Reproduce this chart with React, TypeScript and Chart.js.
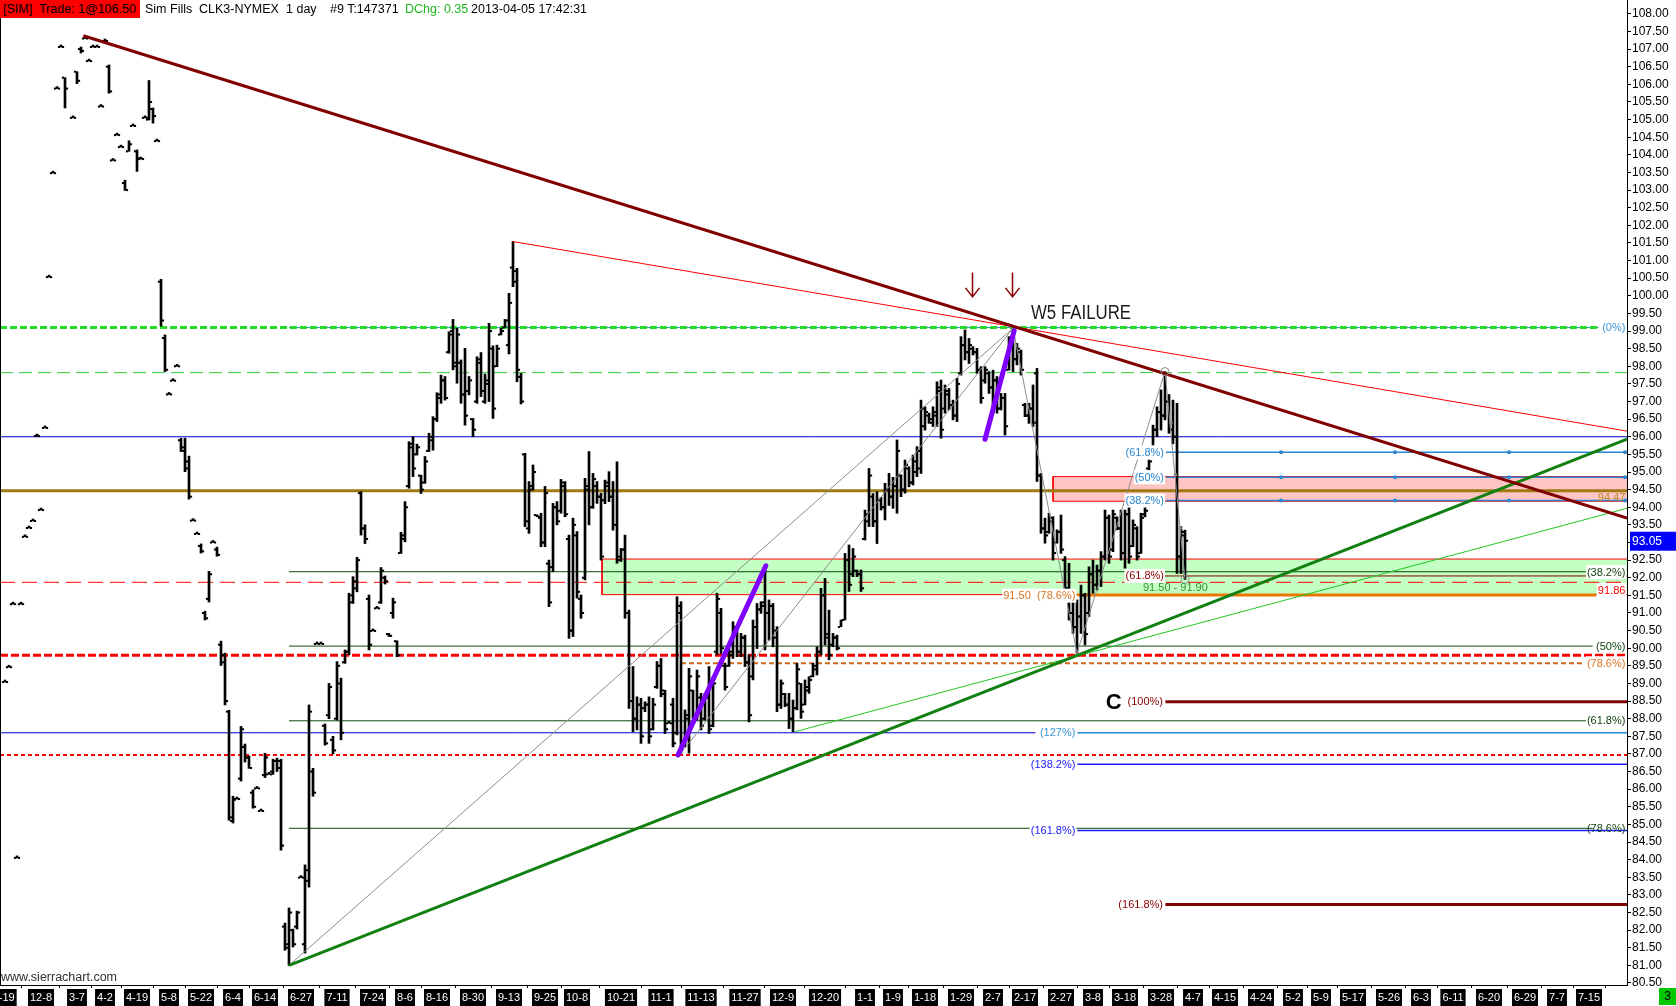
import React, { useEffect, useRef } from 'react';
import { Chart, registerables } from 'chart.js';

Chart.register(...registerables);

// ---------- OHLC data, one slot per bar (slot index = position on the time axis) ----------
const highs: (number | null)[] = [
  null, 89.04, 89.46, 91.25, 84.05, 91.25, 93.16, 93.41, 93.61, 96.02,
  93.92, 96.25, 100.53, 103.48, 105.88, 107.06, 106.19, null, 105.05, 106.36,
  107.06, 107.3, 106.66, 107.06, 107.06, 105.37, 107.23, 106.55, 103.84, 104.56,
  104.22, 103.28, 104.4, 104.82, 104.14, 103.88, 105.05, 106.11, 105.33, 104.39,
  100.47, 98.89, 97.2, 97.59, 98.0, 95.96, 95.96, 95.45, 93.62, 93.24,
  92.96, 91.05, 92.18, 93.0, 92.87, 90.2, 89.86, 88.24, 85.8, 85.72,
  87.78, 87.28, 86.94, 85.98, 86.02, 85.38, 87.02, 86.42, 86.85, 86.88,
  86.85, 82.2, 82.63, 82.03, 82.54, 83.49, 83.85, 88.39, 86.59, 90.12,
  90.12, 87.85, 89.0, 87.5, 89.62, 89.15, 89.95, 91.56, 92.03, 92.58,
  94.44, 93.5, 91.51, 90.49, 91.13, 92.29, 92.05, 90.42, 91.42, 90.21,
  93.29, 94.16, 95.86, 96.0, 95.79, 94.91, 95.44, 96.1, 96.57, 97.25,
  97.75, 97.71, 98.98, 99.33, 99.08, 98.18, 98.51, 97.71, 96.52, 98.27,
  98.39, 97.78, 99.22, 98.58, 98.6, 99.08, 99.33, 100.07, 101.54, 100.78,
  97.8, 95.53, 94.73, 95.2, 93.78, 93.83, 94.59, 92.5, 94.11, 94.16,
  94.79, 94.73, 93.21, 93.69, 93.31, 91.51, 94.82, 95.58, 94.96, 94.73,
  94.4, 94.77, 95.01, 94.73, 95.29, 92.83, 93.21, 91.08, 89.48, 88.62,
  88.58, 88.48, 88.62, 88.58, 89.62, 89.71, 88.81, 87.87, 88.58, 91.46,
  91.32, 88.25, 89.43, 88.81, 89.38, 88.72, 88.72, 89.48, 89.19, 91.56,
  91.13, 89.57, 89.99, 90.75, 90.52, 90.42, 90.37, 89.81, 90.8, 91.27,
  91.32, 92.27, 91.37, 91.27, 90.61, 89.1, 88.72, 88.72, 88.53, 89.57,
  89.0, 89.1, 89.19, 89.57, 90.04, 91.7, 91.98, 91.08, 90.42, 90.37,
  90.8, 92.69, 92.93, 92.83, 92.22, 92.22, 93.92, 95.1, 94.39, 94.44,
  94.28, 94.68, 94.96, 94.85, 95.91, 94.92, 95.34, 95.15, 95.48, 95.72,
  97.04, 96.85, 96.67, 96.85, 97.56, 97.61, 97.47, 97.37, 97.04, 97.66,
  98.84, 99.03, 98.79, 98.56, 98.51, 97.99, 97.99, 97.85, 97.89, 97.71,
  97.23, 97.23, 98.84, 99.08, 98.65, 98.46, 96.95, 96.95, 97.47, 97.94,
  94.96, 93.69, 93.83, 93.73, 93.36, 93.78, 92.6, 92.41, 91.46, 91.37,
  91.79, 91.56, 92.31, 92.5, 92.36, 92.74, 93.92, 93.78, 93.92, 93.73,
  93.92, 93.92, 94.02, 93.64, 93.45, 93.83, 94.02, 95.34, 96.33, 96.85,
  97.33, 97.85, 97.2, 97.04, 96.95, 93.45, 93.35,
];

const lows: (number | null)[] = [
  null, 89.04, 89.46, 91.25, 84.05, 91.25, 93.16, 93.41, 93.61, 96.02,
  93.92, 96.25, 100.53, 103.48, 105.88, 107.06, 105.33, null, 105.05, 106.02,
  106.89, 107.3, 106.66, 107.06, 107.06, 105.37, 107.23, 105.75, 103.84, 104.56,
  104.22, 102.99, 104.1, 104.82, 103.53, 103.88, 105.05, 104.99, 104.9, 104.39,
  99.14, 97.85, 97.2, 97.59, 98.0, 95.58, 95.01, 94.23, 93.62, 93.24,
  92.7, 90.8, 91.31, 93.0, 92.61, 89.51, 88.39, 85.12, 85.04, 85.72,
  86.23, 86.77, 86.59, 85.46, 86.02, 85.38, 86.33, 86.42, 86.42, 86.5,
  84.27, 81.43, 81.0, 81.52, 82.03, 83.49, 81.35, 83.22, 85.8, 90.12,
  90.12, 87.25, 88.0, 87.0, 87.96, 87.4, 89.57, 89.81, 91.27, 91.6,
  93.21, 92.97, 89.95, 90.49, 91.13, 91.27, 91.82, 90.33, 90.85, 89.76,
  92.69, 93.02, 94.54, 94.87, 95.48, 94.39, 94.68, 95.58, 95.62, 96.43,
  96.95, 97.04, 98.37, 97.9, 97.52, 96.95, 96.33, 97.19, 96.0, 96.95,
  97.14, 96.95, 97.0, 96.52, 97.99, 98.89, 99.1, 98.35, 100.26, 97.56,
  96.93, 93.45, 93.26, 94.49, 93.73, 92.88, 92.88, 91.18, 92.17, 93.5,
  93.83, 93.73, 90.28, 90.33, 91.42, 90.85, 91.94, 93.5, 93.97, 94.11,
  92.5, 94.1, 94.16, 93.35, 92.41, 92.46, 90.85, 88.29, 87.63, 87.68,
  87.3, 88.2, 87.3, 87.68, 88.86, 88.62, 87.58, 87.87, 87.2, 87.54,
  87.02, 87.2, 87.02, 88.01, 87.96, 87.68, 87.96, 87.58, 87.77, 89.81,
  89.85, 88.81, 89.48, 89.71, 89.76, 89.76, 89.48, 87.91, 89.1, 89.99,
  90.99, 89.95, 90.23, 90.04, 88.2, 88.29, 88.34, 87.72, 87.63, 88.25,
  88.01, 88.39, 88.72, 89.19, 89.24, 89.81, 90.09, 89.67, 90.04, 89.95,
  90.61, 90.8, 91.61, 92.03, 92.03, 91.61, 93.07, 93.45, 93.45, 92.97,
  93.92, 93.64, 94.05, 93.97, 93.83, 94.3, 94.4, 94.58, 94.63, 94.87,
  94.96, 96.19, 96.38, 96.29, 96.29, 95.96, 96.67, 96.76, 96.48, 96.43,
  97.75, 98.18, 98.08, 98.32, 97.8, 96.95, 97.52, 97.23, 96.67, 96.67,
  96.76, 96.05, 97.89, 97.85, 98.04, 97.75, 96.57, 96.38, 96.29, 94.73,
  93.26, 92.98, 93.26, 92.5, 92.98, 92.69, 91.56, 90.8, 90.42, 89.86,
  90.42, 90.09, 90.9, 91.56, 91.65, 91.75, 92.5, 92.41, 92.74, 93.36,
  92.5, 92.27, 92.41, 92.88, 92.5, 92.69, 93.73, 95.06, 95.53, 96.0,
  96.19, 96.48, 96.1, 95.8, 92.12, 92.12, 91.95,
];

const opens: (number | null)[] = [
  null, 89.04, 89.46, 91.25, 84.05, 91.25, 93.16, 93.41, 93.61, 96.02,
  93.92, 96.25, 100.53, 103.48, 105.88, 107.06, 106.19, null, 105.05, 106.36,
  107.0, 107.3, 106.66, 107.06, 107.06, 105.37, 107.23, 106.5, 103.84, 104.56,
  104.22, 103.2, 104.1, 104.82, 104.1, 103.88, 105.05, 105.0, 105.3, 104.39,
  100.4, 98.8, 97.2, 97.59, 98.0, 95.9, 95.7, 95.3, 93.62, 93.24,
  92.9, 91.0, 91.4, 93.0, 92.8, 90.1, 89.8, 88.2, 85.1, 85.72,
  86.3, 87.2, 86.9, 85.9, 86.02, 85.38, 86.4, 86.42, 86.5, 86.8,
  86.8, 82.1, 81.6, 82.0, 82.1, 83.49, 81.6, 83.4, 86.5, 90.12,
  90.12, 87.8, 88.1, 87.4, 88.0, 89.0, 89.6, 89.9, 91.3, 91.7,
  94.4, 93.4, 91.4, 90.49, 91.13, 91.3, 92.0, 90.4, 91.0, 90.2,
  92.7, 93.1, 94.6, 95.8, 95.5, 94.9, 94.7, 95.6, 95.9, 96.5,
  97.1, 97.6, 98.4, 99.0, 98.0, 98.1, 97.2, 97.3, 96.5, 97.0,
  98.2, 97.0, 97.5, 98.5, 98.0, 98.9, 99.1, 98.6, 100.8, 100.7,
  97.7, 95.5, 93.4, 94.6, 93.78, 93.7, 93.0, 92.4, 92.3, 94.0,
  93.9, 94.6, 93.1, 90.5, 93.2, 91.4, 92.0, 94.5, 94.0, 94.6,
  94.3, 94.2, 94.6, 94.3, 93.5, 92.5, 92.8, 91.0, 88.5, 88.0,
  88.4, 88.3, 88.4, 87.7, 88.9, 89.5, 88.7, 87.87, 88.4, 87.6,
  91.0, 87.3, 88.0, 88.8, 88.1, 88.6, 88.0, 88.6, 87.8, 89.9,
  91.0, 89.5, 89.5, 89.8, 90.5, 89.9, 90.3, 89.6, 89.2, 90.6,
  91.1, 91.3, 91.0, 91.2, 90.5, 88.4, 88.7, 88.4, 88.0, 88.3,
  89.0, 88.4, 88.8, 89.2, 89.4, 89.9, 91.5, 90.4, 90.1, 90.3,
  90.6, 90.8, 92.5, 92.1, 92.2, 92.1, 93.1, 93.6, 94.3, 93.6,
  94.2, 94.0, 94.5, 94.3, 94.6, 94.9, 94.5, 95.1, 94.7, 95.0,
  95.1, 96.3, 96.6, 96.4, 96.6, 97.4, 96.8, 97.2, 96.9, 96.6,
  97.8, 98.6, 98.4, 98.5, 98.4, 97.9, 97.6, 97.8, 97.4, 97.6,
  96.8, 97.1, 97.9, 98.6, 98.2, 98.4, 96.9, 96.6, 96.8, 97.8,
  94.9, 93.4, 93.3, 93.6, 93.0, 93.3, 92.5, 91.7, 91.0, 90.6,
  90.9, 91.5, 91.0, 92.1, 91.8, 92.2, 92.6, 93.7, 92.8, 93.7,
  93.4, 92.7, 93.8, 92.9, 93.4, 92.7, 93.8, 95.1, 95.6, 96.2,
  96.7, 96.6, 97.0, 96.2, 96.0, 92.6, 93.2,
];

const closes: (number | null)[] = [
  null, 89.04, 89.46, 91.25, 84.05, 91.25, 93.16, 93.41, 93.61, 96.02,
  93.92, 96.25, 100.53, 103.48, 105.88, 107.06, 105.88, null, 105.05, 106.1,
  106.95, 107.3, 106.66, 107.06, 107.06, 105.37, 107.23, 105.8, 103.84, 104.56,
  104.22, 103.0, 104.3, 104.82, 103.9, 103.88, 105.05, 105.5, 105.1, 104.39,
  99.3, 97.9, 97.2, 97.59, 98.0, 95.6, 95.1, 94.3, 93.62, 93.24,
  92.75, 90.85, 92.1, 93.0, 92.65, 89.6, 88.5, 85.2, 85.7, 85.72,
  87.7, 86.9, 86.6, 85.5, 86.02, 85.38, 86.9, 86.42, 86.8, 86.6,
  84.4, 81.5, 82.5, 81.6, 82.5, 83.49, 83.7, 88.2, 85.9, 90.12,
  90.12, 87.3, 88.9, 87.1, 89.5, 87.6, 89.9, 91.5, 91.9, 92.5,
  93.4, 93.1, 90.1, 90.49, 91.13, 92.2, 91.9, 90.35, 91.3, 89.8,
  93.2, 94.0, 95.7, 95.1, 95.7, 94.5, 95.3, 96.0, 96.5, 97.2,
  97.6, 97.1, 98.9, 98.1, 98.9, 97.2, 96.6, 97.6, 96.2, 98.1,
  97.3, 97.6, 99.0, 96.8, 98.5, 99.0, 99.3, 99.8, 100.4, 97.9,
  97.0, 93.6, 94.5, 95.0, 93.73, 93.0, 94.4, 91.3, 94.0, 93.6,
  94.7, 93.8, 90.5, 93.5, 91.6, 91.0, 94.6, 94.0, 94.8, 94.3,
  92.6, 94.7, 94.3, 93.5, 92.6, 92.8, 91.0, 88.5, 88.0, 88.4,
  87.5, 88.4, 87.5, 88.4, 89.5, 88.8, 87.7, 87.87, 87.3, 91.2,
  87.3, 88.1, 89.2, 88.1, 89.2, 87.8, 88.6, 87.7, 89.0, 91.4,
  90.0, 88.9, 89.9, 90.6, 89.9, 90.3, 89.6, 88.1, 90.6, 91.1,
  91.2, 91.0, 91.2, 90.3, 88.4, 89.0, 88.4, 88.0, 88.3, 89.4,
  88.2, 88.9, 89.1, 89.5, 89.9, 91.5, 90.3, 89.8, 90.3, 90.0,
  90.8, 92.5, 91.8, 92.6, 92.1, 91.7, 93.8, 94.9, 93.6, 94.2,
  94.0, 94.5, 94.3, 94.6, 95.6, 94.5, 95.2, 94.7, 95.3, 95.6,
  96.8, 96.7, 96.5, 96.7, 97.3, 96.2, 97.3, 96.9, 96.6, 97.5,
  98.6, 98.4, 98.6, 98.4, 97.9, 97.1, 97.9, 97.4, 97.6, 96.8,
  97.1, 96.3, 98.6, 98.2, 98.5, 97.9, 96.6, 96.8, 96.4, 94.9,
  93.4, 93.2, 93.7, 92.7, 93.3, 92.8, 91.7, 91.0, 90.6, 90.9,
  91.5, 90.4, 92.1, 91.8, 92.2, 92.6, 93.7, 92.6, 93.8, 93.4,
  92.7, 93.8, 92.6, 93.5, 92.6, 93.7, 93.9, 95.3, 96.2, 96.7,
  96.6, 97.0, 96.2, 96.0, 92.6, 93.3, 93.05,
];

// ---------- time axis labels ----------
const xTickIdx = [0, 10, 19, 26, 34, 42, 50, 58, 66, 75, 84, 93, 101, 109, 118, 127, 136, 144, 155, 165, 175, 186, 195.5, 206, 216, 223, 231, 240, 248, 256, 265, 273, 281, 290, 298, 306, 315, 323, 330, 338, 347, 355, 363, 372, 381, 389, 397];
const xTickLabels = ['11-19', '12-8', '3-7', '4-2', '4-19', '5-8', '5-22', '6-4', '6-14', '6-27', '7-11', '7-24', '8-6', '8-16', '8-30', '9-13', '9-25', '10-8', '10-21', '11-1', '11-13', '11-27', '12-9', '12-20', '1-1', '1-9', '1-18', '1-29', '2-7', '2-17', '2-27', '3-8', '3-18', '3-28', '4-7', '4-15', '4-24', '5-2', '5-9', '5-17', '5-26', '6-3', '6-11', '6-20', '6-29', '7-7', '7-15'];

// ---------- drawing-tool values (bar slot, price) ----------
const X_MIN = -0.25;
const X_MAX = 406.5;
const Y_MIN = 80.443;
const Y_MAX = 108.394;

const maroonTrend = [{ x: 20.6, y: 107.38 }, { x: 406.5, y: 93.69 }];
const redTrend = [{ x: 128, y: 101.54 }, { x: 406.5, y: 96.16 }];
const greenTrend = [{ x: 72, y: 81.0 }, { x: 406.5, y: 95.93 }];
const greenThinTrend = [{ x: 198.5, y: 87.63 }, { x: 406.5, y: 93.97 }];
const grayLineA = [{ x: 72, y: 81.0 }, { x: 253, y: 99.08 }];
const grayLineB = [{ x: 170, y: 87.02 }, { x: 253, y: 99.08 }];
const zigzag = [{ x: 253, y: 99.08 }, { x: 269, y: 89.86 }, { x: 291, y: 97.85 }, { x: 296, y: 91.95 }];
const pivotCircles = [{ x: 291, y: 97.85 }, { x: 296, y: 91.95 }];
const zigzagDots = [{ x: 292.5, y: 96.4 }, { x: 293.6, y: 94.92 }, { x: 294.8, y: 93.4 }];
const purpleA = [{ x: 169.25, y: 86.97 }, { x: 191.2, y: 92.34 }];
const purpleB = [{ x: 246, y: 95.93 }, { x: 253.3, y: 99.01 }];

const greenZone = { x0: 150.25, top: 92.53, bottom: 91.52 };
const pinkZone = { x0: 263, top: 94.87, bottom: 94.17 };

const levelGreenDash = 99.1;
const levelGreenLight = 97.82;
const levelNavy = 96.0;
const levelBrown = 94.47;
const levelRedLong = 91.87;
const levelRedThick = 89.8;
const levelRedShort = 86.97;

const retraceFrom = 72;
const retraceTo = 397.9;
const retraceLevels = [92.17, 90.06, 87.94, 84.89];
const zeroLineTo = 399.4;

const orangeDashLevel = 89.57;
const orangeDashFrom = 170;
const orangeDashTo = 395.75;

const fibFrom = 291.25;
const fibLevels = [95.56, 94.85, 94.19];
const fibDotIdx = [320, 348.5, 377, 406];

const projLabelEnd = 258.6;
const projFrom = 269.1;
const level127 = 87.6;
const blueProjLevels = [86.71, 84.83];
const darkRedFrom = 291.1;
const darkRedLevels = [88.48, 82.73];
const orangeSolidLevel = 91.51;
const orangeSolidTo = 398.75;
const thinDarkRedLevel = 92.05;
const thinDarkRedFrom = 290.75;

const arrowIdx = [242.75, 252.75];
const arrowTop = 100.66;
const arrowBottom = 99.97;

type Note = { text: string; x: number; y: number; kind: string; align: 'left' | 'right' | 'center' };
const notes: Note[] = [
  { text: '(0%)', x: 406.1, y: 99.1, kind: 'lightBlue', align: 'right' },
  { text: '94.47', x: 406.1, y: 94.29, kind: 'olive', align: 'right' },
  { text: '(38.2%)', x: 406.1, y: 92.16, kind: 'darkGreen', align: 'right' },
  { text: '91.86', x: 406.1, y: 91.65, kind: 'red', align: 'right' },
  { text: '(50%)', x: 406.1, y: 90.06, kind: 'darkGreen', align: 'right' },
  { text: '(78.6%)', x: 406.1, y: 89.57, kind: 'orange', align: 'right' },
  { text: '(61.8%)', x: 406.1, y: 87.94, kind: 'darkGreen', align: 'right' },
  { text: '(78.6%)', x: 406.1, y: 84.89, kind: 'darkGreenNoBg', align: 'right' },
  { text: '(61.8%)', x: 290.75, y: 95.56, kind: 'fibBlue', align: 'right' },
  { text: '(50%)', x: 290.75, y: 94.85, kind: 'fibBlue', align: 'right' },
  { text: '(38.2%)', x: 290.75, y: 94.19, kind: 'fibBlue', align: 'right' },
  { text: '(61.8%)', x: 290.75, y: 92.05, kind: 'darkRed', align: 'right' },
  { text: '(100%)', x: 290.5, y: 88.48, kind: 'darkRed', align: 'right' },
  { text: '(161.8%)', x: 290.5, y: 82.74, kind: 'darkRed', align: 'right' },
  { text: '91.50  (78.6%)', x: 268.6, y: 91.49, kind: 'orange', align: 'right' },
  { text: '(127%)', x: 268.6, y: 87.6, kind: 'lightBlue', align: 'right' },
  { text: '(138.2%)', x: 268.6, y: 86.71, kind: 'blue', align: 'right' },
  { text: '(161.8%)', x: 268.6, y: 84.83, kind: 'blue', align: 'right' },
  { text: '91.50 - 91.90', x: 293.6, y: 91.72, kind: 'green', align: 'center' },
  { text: 'W5 FAILURE', x: 257.5, y: 99.51, kind: 'title', align: 'left' },
  { text: 'C', x: 278.2, y: 88.45, kind: 'bold', align: 'center' },
];

const FONT = '"Liberation Sans", Arial, sans-serif';
const noteStyle: Record<string, { color: string; font: string; bg?: string; fit?: number }> = {
  lightBlue: { color: '#3c96d6', font: `11px ${FONT}`, bg: '#ffffff' },
  olive: { color: '#b48e2c', font: `11px ${FONT}` },
  darkGreen: { color: '#0a3d0a', font: `11px ${FONT}`, bg: '#ffffff' },
  darkGreenNoBg: { color: '#0a3d0a', font: `11px ${FONT}` },
  red: { color: '#ff0000', font: `11px ${FONT}`, bg: '#ffffff' },
  orange: { color: '#dc7420', font: `11px ${FONT}`, bg: '#ffffff' },
  fibBlue: { color: '#2a86d0', font: `11px ${FONT}`, bg: '#ffffff' },
  darkRed: { color: '#8b0000', font: `11px ${FONT}`, bg: '#ffffff' },
  blue: { color: '#2020ff', font: `11px ${FONT}`, bg: '#ffffff' },
  green: { color: '#2f962f', font: `11px ${FONT}` },
  title: { color: '#1a1a1a', font: `20px ${FONT}`, fit: 100 },
  bold: { color: '#000000', font: `bold 22px ${FONT}` },
};

const lastClose = closes[closes.length - 1] as number;

const annotationPlugin = {
  id: 'annotations',
  afterDatasetsDraw(chart: any) {
    const { ctx } = chart;
    const xs = chart.scales.x;
    const ys = chart.scales.y;
    ctx.save();
    ctx.textBaseline = 'middle';
    ctx.textAlign = 'left';
    for (const n of notes) {
      const st = noteStyle[n.kind];
      ctx.font = st.font;
      const px = xs.getPixelForValue(n.x);
      const py = ys.getPixelForValue(n.y);
      const raw = ctx.measureText(n.text).width;
      const sx = st.fit ? st.fit / raw : 1;
      const w = raw * sx;
      const left = n.align === 'right' ? px - w : n.align === 'center' ? px - w / 2 : px;
      if (st.bg) {
        ctx.fillStyle = st.bg;
        ctx.fillRect(left - 1, py - 7, w + 2, 14);
      }
      ctx.fillStyle = st.color;
      ctx.save();
      ctx.translate(left, py + 0.5);
      ctx.scale(sx, 1);
      ctx.fillText(n.text, 0, 0);
      ctx.restore();
    }
    ctx.strokeStyle = '#8b0000';
    ctx.lineWidth = 1.5;
    for (const ax of arrowIdx) {
      const px = Math.round(xs.getPixelForValue(ax)) + 0.5;
      const top = ys.getPixelForValue(arrowTop);
      const bot = ys.getPixelForValue(arrowBottom);
      ctx.beginPath();
      ctx.moveTo(px, top);
      ctx.lineTo(px, bot);
      ctx.moveTo(px - 7, bot - 9);
      ctx.lineTo(px, bot);
      ctx.lineTo(px + 7, bot - 9);
      ctx.stroke();
    }
    ctx.restore();
  },
  afterDraw(chart: any) {
    const { ctx, chartArea } = chart;
    ctx.save();
    // the price scale is cut off where the date row starts
    ctx.fillStyle = '#ffffff';
    ctx.fillRect(chartArea.right + 1, chartArea.bottom + 1, chart.width - chartArea.right - 1, chart.height - chartArea.bottom - 1);
    const py = chart.scales.y.getPixelForValue(lastClose);
    const left = chartArea.right + 3;
    ctx.fillStyle = '#0000ff';
    ctx.fillRect(left, py - 9, chart.width - left, 19);
    ctx.fillStyle = '#ffffff';
    ctx.font = `12px ${FONT}`;
    ctx.textBaseline = 'middle';
    ctx.textAlign = 'left';
    ctx.fillText(lastClose.toFixed(2), left + 2, py + 1);
    ctx.restore();
  },
};

type P = { x: number; y: number };
const flat = (y: number, x0: number, x1: number): P[] => [{ x: x0, y }, { x: x1, y }];

function buildDatasets() {
  const ds: any[] = [];
  const line = (data: P[], color: string, width: number, dash: number[] = [], order = 50, extra: any = {}) =>
    ds.push({ type: 'line', data, borderColor: color, borderWidth: width, borderDash: dash, pointRadius: 0, tension: 0, fill: false, order, ...extra });

  // zones
  for (const z of [
    { zone: greenZone, fillColor: '#c4ffc4' },
    { zone: pinkZone, fillColor: '#ffc4c4' },
  ]) {
    line(flat(z.zone.top, z.zone.x0, X_MAX), '#ff0000', 1, [], 100, { fill: { value: z.zone.bottom }, backgroundColor: z.fillColor });
    line(flat(z.zone.bottom, z.zone.x0, X_MAX), '#ff0000', 1, [], 99);
    line([{ x: z.zone.x0, y: z.zone.top }, { x: z.zone.x0, y: z.zone.bottom }], '#ff0000', 1, [], 99);
  }

  // horizontal levels
  line(flat(levelGreenDash, retraceFrom, zeroLineTo), '#3a8fd8', 1, [], 61);
  line(flat(levelGreenDash, X_MIN, zeroLineTo), '#22dd22', 3, [7, 3], 60);
  line(flat(levelGreenLight, X_MIN, X_MAX), '#33c833', 1, [13, 6]);
  line(flat(levelNavy, X_MIN, X_MAX), '#0000c8', 1);
  line(flat(levelBrown, X_MIN, X_MAX), '#9e7a12', 3);
  for (const lv of retraceLevels) line(flat(lv, retraceFrom, retraceTo), '#0a4a0a', 1);
  line(flat(levelRedLong, X_MIN, X_MAX), '#ff0000', 1, [15, 7]);
  line(flat(levelRedThick, X_MIN, X_MAX), '#ff0000', 3, [8, 3]);
  line(flat(orangeDashLevel, orangeDashFrom, orangeDashTo), '#d06a1a', 2, [5, 3]);
  line(flat(levelRedShort, X_MIN, X_MAX), '#ff0000', 2, [4, 3]);
  line(flat(level127, X_MIN, projLabelEnd), '#0000c8', 1);
  line(flat(level127, projFrom, X_MAX), '#1e8ad6', 1.5);
  for (const lv of blueProjLevels) line(flat(lv, projFrom, X_MAX), '#1c1cff', 1.5);
  for (const lv of darkRedLevels) line(flat(lv, darkRedFrom, X_MAX), '#800000', 3);
  line(flat(orangeSolidLevel, projFrom, orangeSolidTo), '#e87800', 3, [], 45);
  line(flat(thinDarkRedLevel, thinDarkRedFrom, X_MAX), '#8b0000', 1);
  for (const lv of fibLevels) line(flat(lv, fibFrom, X_MAX), '#2a86d0', 1.5);

  // OHLC bars
  const barData: any[] = [];
  const openData: P[] = [];
  const closeData: P[] = [];
  highs.forEach((h, i) => {
    const l = lows[i];
    if (h == null || l == null) return;
    barData.push({ x: i, y: [l, h] });
    openData.push({ x: i - 0.5, y: opens[i] as number });
    closeData.push({ x: i + 0.5, y: closes[i] as number });
  });
  ds.push({ type: 'bar', data: barData, backgroundColor: '#000', borderWidth: 0, barThickness: 2, minBarLength: 2, order: 20 });
  for (const d of [openData, closeData]) {
    ds.push({ type: 'scatter', data: d, showLine: false, pointStyle: 'line', pointRadius: 1.1, pointBorderWidth: 2, pointBorderColor: '#000', pointBackgroundColor: '#000', borderColor: '#000', order: 19 });
  }

  // trend lines
  line(maroonTrend, '#800000', 3, [], 10);
  line(redTrend, '#ff0000', 1, [], 10);
  line(greenTrend, '#118011', 3, [], 10);
  line(greenThinTrend, '#22c822', 1, [], 10);
  line(grayLineA, '#8c8c8c', 1, [], 10);
  line(grayLineB, '#8c8c8c', 1, [], 10);
  line(zigzag, '#8c8c8c', 1, [], 10);
  line(purpleA, '#7f00ff', 5, [], 5, { borderCapStyle: 'round' });
  line(purpleB, '#7f00ff', 5, [], 5, { borderCapStyle: 'round' });

  // markers
  const dots: P[] = [];
  for (const lv of fibLevels) for (const xi of fibDotIdx) dots.push({ x: xi, y: lv });
  ds.push({ type: 'scatter', data: dots, pointStyle: 'circle', pointRadius: 2, pointBorderWidth: 0, pointBackgroundColor: '#2a86d0', order: 4 });
  ds.push({ type: 'scatter', data: zigzagDots, pointStyle: 'circle', pointRadius: 1.8, pointBorderWidth: 0, pointBackgroundColor: '#8c8c8c', order: 4 });
  ds.push({ type: 'scatter', data: pivotCircles, pointStyle: 'circle', pointRadius: 4, pointBorderWidth: 1, pointBorderColor: '#8c8c8c', pointBackgroundColor: 'rgba(0,0,0,0)', order: 4 });
  return ds;
}

export default function App() {
  const ref = useRef<HTMLCanvasElement>(null);

  useEffect(() => {
    if (!ref.current) return;
    const chart = new Chart(ref.current, {
      type: 'line',
      data: { datasets: buildDatasets() },
      plugins: [annotationPlugin],
      options: {
        animation: false,
        responsive: false,
        devicePixelRatio: 1,
        events: [],
        layout: { padding: 0, autoPadding: false },
        plugins: { legend: { display: false }, tooltip: { enabled: false }, title: { display: false } },
        scales: {
          x: {
            type: 'linear',
            min: X_MIN,
            max: X_MAX,
            offset: false,
            grid: { drawOnChartArea: false, tickLength: 3, color: '#000' },
            border: { display: true, color: '#000' },
            afterBuildTicks: (scale: any) => {
              scale.ticks = xTickIdx.map((v) => ({ value: v }));
            },
            afterFit: (scale: any) => {
              scale.height = 21;
              scale.paddingLeft = 0;
              scale.paddingRight = 0;
            },
            ticks: {
              autoSkip: false,
              maxRotation: 0,
              minRotation: 0,
              padding: 3,
              color: '#ffffff',
              font: { family: FONT, size: 11 },
              showLabelBackdrop: true,
              backdropColor: '#000000',
              backdropPadding: { top: 2, bottom: 2, left: 2, right: 2 },
              callback: (_v: any, i: number) => xTickLabels[i],
            },
          },
          y: {
            type: 'linear',
            position: 'right',
            min: Y_MIN,
            max: Y_MAX,
            grid: { drawOnChartArea: false, tickLength: 4, color: '#000' },
            border: { display: true, color: '#000' },
            afterFit: (scale: any) => {
              scale.width = 49;
              scale.paddingTop = 0;
              scale.paddingBottom = 0;
            },
            ticks: {
              stepSize: 0.5,
              includeBounds: false,
              autoSkip: false,
              padding: 1,
              color: '#000',
              font: { family: FONT, size: 12 },
              callback: (v: any) => Number(v).toFixed(2),
            },
          },
        },
      } as any,
    });
    return () => chart.destroy();
  }, []);

  const hdr: React.CSSProperties = { position: 'absolute', top: 0, height: 18, lineHeight: '18px', fontFamily: FONT, fontSize: 12.5, color: '#000', whiteSpace: 'pre' };

  return (
    <div style={{ position: 'fixed', left: 0, top: 0, width: 1676, height: 1006, background: '#fff', overflow: 'hidden' }}>
      <canvas ref={ref} width={1676} height={1006} style={{ position: 'absolute', left: 0, top: 0 }} />
      <div style={{ position: 'absolute', left: 0, top: 17, width: 1, height: 968, background: '#000' }} />
      <div style={{ ...hdr, left: 0, width: 140, background: '#ff0000', paddingLeft: 3, boxSizing: 'border-box' }}>[SIM]  Trade: 1@106.50</div>
      <div style={{ ...hdr, left: 145 }}>Sim Fills</div>
      <div style={{ ...hdr, left: 199 }}>CLK3-NYMEX</div>
      <div style={{ ...hdr, left: 286 }}>1 day</div>
      <div style={{ ...hdr, left: 330 }}>#9 T:147371</div>
      <div style={{ ...hdr, left: 405, color: '#1fb81f' }}>DChg: 0.35</div>
      <div style={{ ...hdr, left: 471 }}>2013-04-05 17:42:31</div>
      <div style={{ position: 'absolute', left: 1, top: 970, fontFamily: FONT, fontSize: 12.5, lineHeight: '15px', color: '#303030' }}>www.sierrachart.com</div>
      <div style={{ position: 'absolute', left: 1659, top: 988, width: 17, height: 17, background: '#00c800', fontFamily: FONT, fontSize: 12, lineHeight: '17px', textAlign: 'center', color: '#000' }}>3</div>
    </div>
  );
}
